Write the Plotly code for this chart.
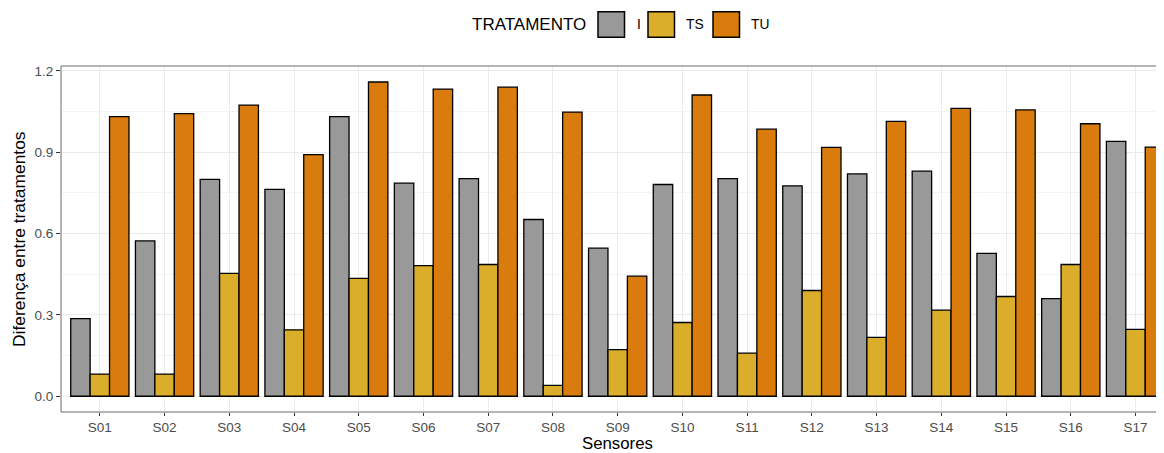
import plotly.graph_objects as go

sensores = ["S01", "S02", "S03", "S04", "S05", "S06", "S07", "S08", "S09",
            "S10", "S11", "S12", "S13", "S14", "S15", "S16", "S17"]
tratamentos = ["I", "TS", "TU"]
valores_I = [0.286, 0.573, 0.800, 0.763, 1.031, 0.786, 0.803, 0.652, 0.546,
             0.781, 0.803, 0.776, 0.820, 0.830, 0.527, 0.360, 0.940]
valores_TS = [0.082, 0.082, 0.453, 0.245, 0.435, 0.482, 0.486, 0.040, 0.172,
              0.272, 0.159, 0.390, 0.217, 0.318, 0.368, 0.486, 0.247]
valores_TU = [1.031, 1.042, 1.074, 0.891, 1.159, 1.133, 1.140, 1.048, 0.443,
              1.111, 0.985, 0.918, 1.014, 1.062, 1.056, 1.005, 0.919]
series = {"I": valores_I, "TS": valores_TS, "TU": valores_TU}
cores = {"I": "#999999", "TS": "#DAAD2B", "TU": "#D97C0D"}

# the page body has an 8px margin; the figure is sized so it fills the window
OFF = 8
WIN_W, WIN_H = 1164, 453
W, H = WIN_W - OFF, WIN_H - OFF
# plot panel in window pixels
L, T, R, B = 61, 65.5, 1164, 412.3
FONT = "Liberation Sans, Arial, Helvetica, sans-serif"

fig = go.Figure()
for t in tratamentos:
    fig.add_trace(go.Bar(
        x=sensores, y=series[t], name=t, showlegend=False,
        marker=dict(color=cores[t], line=dict(color="#000000", width=1.3)),
    ))

def px_x(px):
    return (px - L) / (R - L)

def px_y(py):
    return (B - py) / (B - T)

shapes = []
annotations = []
# panel border (right side extends beyond visible area, like the reference)
shapes.append(dict(type="rect", xref="paper", yref="paper",
                   x0=0, x1=1.05, y0=0, y1=1,
                   line=dict(color="#6b6b6b", width=1), layer="above"))

# custom legend
annotations.append(dict(text="TRATAMENTO", xref="paper", yref="paper",
                        x=px_x(588), y=px_y(24), xanchor="right", yanchor="middle",
                        showarrow=False, font=dict(family=FONT, size=17, color="#000000")))
leg = [("I", 598, 635), ("TS", 648, 684), ("TU", 713, 749)]
for t, bx, tx in leg:
    shapes.append(dict(type="rect", xref="paper", yref="paper",
                       x0=px_x(bx), x1=px_x(bx + 26.5), y0=px_y(36.7), y1=px_y(11),
                       fillcolor=cores[t], line=dict(color="#000000", width=1.5)))
    annotations.append(dict(text=t, xref="paper", yref="paper",
                            x=px_x(tx), y=px_y(24), xanchor="left", yanchor="middle",
                            showarrow=False, font=dict(family=FONT, size=13.8, color="#000000")))

# axis titles
annotations.append(dict(text="Sensores", xref="paper", yref="paper",
                        x=px_x(617.5), y=px_y(444), xanchor="center", yanchor="middle",
                        borderpad=0,
                        showarrow=False, font=dict(family=FONT, size=16.8, color="#000000")))
annotations.append(dict(text="Diferença entre tratamentos", xref="paper", yref="paper",
                        x=px_x(19), y=px_y((T + B) / 2), xanchor="center", yanchor="middle",
                        textangle=-90,
                        showarrow=False, font=dict(family=FONT, size=17.4, color="#000000")))

fig.update_layout(
    width=W, height=H,
    margin=dict(l=L - OFF, r=0, t=T - OFF, b=WIN_H - B, pad=0),
    paper_bgcolor="#FFFFFF", plot_bgcolor="#FFFFFF",
    barmode="group", bargap=0.1, bargroupgap=0,
    font=dict(family=FONT, size=13.5, color="#4D4D4D"),
    shapes=shapes, annotations=annotations,
    xaxis=dict(
        type="category", range=[-0.6, 16.44],
        showgrid=True, gridcolor="#EBEBEB", gridwidth=1.2,
        ticks="outside", ticklen=3, tickwidth=1, tickcolor="#333333",
        tickfont=dict(family=FONT, size=13.5, color="#4D4D4D"),
        showline=False, zeroline=False,
    ),
    yaxis=dict(
        range=[-0.058, 1.218], tick0=0, dtick=0.3, tickformat=".1f",
        showgrid=True, gridcolor="#EBEBEB", gridwidth=1.2,
        minor=dict(tick0=0.15, dtick=0.3, showgrid=True, gridcolor="#F4F4F4", gridwidth=0.6),
        ticks="outside", ticklen=4, tickwidth=1, tickcolor="#333333",
        tickfont=dict(family=FONT, size=13.5, color="#4D4D4D"),
        showline=False, zeroline=False,
    ),
)

fig.write_html("out.html")
